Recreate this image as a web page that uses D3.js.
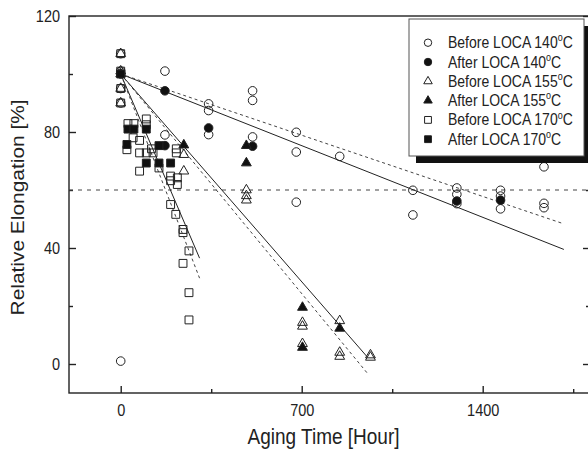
<!DOCTYPE html>
<html>
<head>
<meta charset="utf-8">
<script src="https://cdn.jsdelivr.net/npm/d3@7"></script>
<style>
  body { margin: 0; background: #fff; }
  text { font-family: "Liberation Sans", Arial, sans-serif; fill: #222; }
</style>
</head>
<body>
<div id="container"></div>
<script>
/* DATA: [aging time (h), relative elongation (%)] */
const before140 = [[0,107],[0,101],[0,95],[0,90],[0,1],[171,101],[171,79],[340,89.7],[340,87.4],[340,79.1],
  [510,94.2],[510,90.9],[510,78.3],[679,79.9],[679,73.1],[679,55.8],[847,71.6],[1130,59.9],[1130,51.4],
  [1300,60.7],[1300,58.5],[1300,55.3],[1469,59.9],[1469,57.9],[1469,53.5],[1637,68],[1637,55.4],[1637,53.9]];
const after140 = [[0,100],[171,94.2],[171,75.3],[340,81.4],[510,75.1],[1300,56.2],[1469,56.5]];
const before155 = [[0,107],[0,101],[0,95],[0,90],[244,72.2],[244,66.5],[486,60],[486,58],[486,56.5],
  [703,14.3],[703,13],[703,7],[847,14.9],[847,4],[847,2.6],[966,3.1],[966,2.3]];
const after155 = [[0,100],[244,75.5],[486,75.3],[486,69.3],[703,19.5],[703,5.7],[847,12.3]];
const before170 = [[0,107],[0,101],[0,95],[0,90],[28,82.9],[51,82.9],[99,84.5],[99,82.5],[48,78],[73,77.1],
  [24,73.9],[73,72.8],[99,72.8],[125,72.8],[119,74.2],[148,67.6],[73,66.5],[215,74.2],[215,72.8],
  [193,64.8],[219,64.2],[193,63.2],[219,61.9],[193,55],[213,51.6],[241,46.4],[241,45.3],[264,39],
  [241,34.7],[264,24.6],[264,15.2]];
const after170 = [[0,100],[28,81],[51,81],[99,81],[24,75.7],[148,75.3],[99,69.3],[148,69.3],[193,69.3]];

// linear fits, start and end points
const solidFits = [[[0,100],[1714,39.5]], [[0,100],[952,2.6]], [[0,100],[305,36.5]]];
const dashedFits = [[[0,100],[1708,48.5]], [[0,100],[956,-3.4]], [[0,100],[305,29.6]]];
const criterion = 60;

const legendLabels = ["Before LOCA 140", "After LOCA 140", "Before LOCA 155", "After LOCA 155", "Before LOCA 170", "After LOCA 170"];
const xTicks = [0, 700, 1400];
const xMinor = [350, 1050, 1750];
const yTicks = [0, 40, 80, 120];
const yMinor = [20, 60, 100];

/* CONSTANTS */
const width = 588, height = 452;
const stretch = 1.15; // text in the picture is a bit tall

const series = [
  {data: before140, shape: d3.symbolCircle, size: 58, filled: false},
  {data: after140, shape: d3.symbolCircle, size: 58, filled: true},
  {data: before155, shape: d3.symbolTriangle, size: 42, filled: false},
  {data: after155, shape: d3.symbolTriangle, size: 42, filled: true},
  {data: before170, shape: d3.symbolSquare, size: 62, filled: false},
  {data: after170, shape: d3.symbolSquare, size: 62, filled: true}
];

/* SCALES */
const xScale = d3.scaleLinear().domain([-200, 1815]).range([69, 590]);
const yScale = d3.scaleLinear().domain([-10, 120]).range([393, 16]);

const svg = d3.select("#container").append("svg")
  .attr("width", width)
  .attr("height", height);

/* AXES */
function styleAxis(g) {
  g.select(".domain").remove();
  g.selectAll("line").attr("stroke", "#222").attr("stroke-width", 1.4);
  g.selectAll("text").style("font-size", "14.5px").attr("fill", "#222");
}

svg.append("g").attr("transform", `translate(0,${yScale(-10)})`)
  .call(d3.axisBottom(xScale).tickValues(xTicks).tickSize(-7).tickPadding(10).tickFormat(d3.format("d")))
  .call(styleAxis)
  .selectAll("text").attr("transform", `scale(1,${stretch})`);
svg.append("g").attr("transform", `translate(0,${yScale(-10)})`)
  .call(d3.axisBottom(xScale).tickValues(xMinor).tickSize(-4).tickFormat(""))
  .call(styleAxis);

svg.append("g").attr("transform", `translate(${xScale(-200)},0)`)
  .call(d3.axisLeft(yScale).tickValues(yTicks).tickSize(-7).tickPadding(9))
  .call(styleAxis)
  .selectAll("text").attr("transform", `scale(1,${stretch})`);
svg.append("g").attr("transform", `translate(${xScale(-200)},0)`)
  .call(d3.axisLeft(yScale).tickValues(yMinor).tickSize(-4).tickFormat(""))
  .call(styleAxis);

svg.append("g").attr("transform", `translate(${xScale(1815)},0)`)
  .call(d3.axisRight(yScale).tickValues(yTicks).tickSize(-7).tickFormat(""))
  .call(styleAxis);
svg.append("g").attr("transform", `translate(${xScale(1815)},0)`)
  .call(d3.axisRight(yScale).tickValues(yMinor).tickSize(-4).tickFormat(""))
  .call(styleAxis);

// frame
svg.append("rect")
  .attr("x", xScale(-200)).attr("y", yScale(120))
  .attr("width", xScale(1815) - xScale(-200))
  .attr("height", yScale(-10) - yScale(120))
  .attr("fill", "none").attr("stroke", "#222").attr("stroke-width", 1.4);

// axis titles
svg.append("text")
  .attr("transform", `translate(${(xScale(-200) + xScale(1815)) / 2 - 6},444) scale(1,${stretch})`)
  .attr("text-anchor", "middle")
  .style("font-size", "19px")
  .text("Aging Time [Hour]");

svg.append("text")
  .attr("transform", `translate(24,${yScale(54)}) rotate(-90) scale(1.1,1)`)
  .attr("text-anchor", "middle")
  .style("font-size", "19px")
  .text("Relative Elongation [%]");

/* LINES */
const line = d3.line().x(d => xScale(d[0])).y(d => yScale(d[1]));

svg.append("line")
  .attr("x1", xScale(-200)).attr("x2", xScale(1815))
  .attr("y1", yScale(criterion)).attr("y2", yScale(criterion))
  .attr("stroke", "#444").attr("stroke-width", 1).attr("stroke-dasharray", "4,5");

svg.selectAll(".fit-solid")
  .data(solidFits)
  .join("path")
  .attr("class", "fit-solid")
  .attr("d", line)
  .attr("fill", "none").attr("stroke", "#222").attr("stroke-width", 1);

svg.selectAll(".fit-dashed")
  .data(dashedFits)
  .join("path")
  .attr("class", "fit-dashed")
  .attr("d", line)
  .attr("fill", "none").attr("stroke", "#444").attr("stroke-width", 1).attr("stroke-dasharray", "3,3");

/* POINTS */
series.forEach(s => {
  const sym = d3.symbol().type(s.shape).size(s.size);
  svg.append("g").selectAll("path")
    .data(s.data)
    .join("path")
    .attr("transform", d => `translate(${xScale(d[0])},${yScale(d[1])})`)
    .attr("d", sym)
    .attr("fill", s.filled ? "#111" : "none")
    .attr("stroke", "#222")
    .attr("stroke-width", 1);
});

/* LEGEND */
const legend = svg.append("g");
legend.append("rect")
  .attr("x", 416).attr("y", 26).attr("width", 175).attr("height", 137)
  .attr("fill", "#111");
legend.append("rect")
  .attr("x", 409).attr("y", 19).attr("width", 175).attr("height", 137)
  .attr("fill", "#fff").attr("stroke", "#555").attr("stroke-width", 1);

legendLabels.forEach((label, i) => {
  const cy = 42.7 + i * 19.3;
  const s = series[i];
  legend.append("path")
    .attr("transform", `translate(428,${cy})`)
    .attr("d", d3.symbol().type(s.shape).size(s.size * 0.75))
    .attr("fill", s.filled ? "#111" : "none")
    .attr("stroke", "#222").attr("stroke-width", 1);
  const t = legend.append("text")
    .attr("transform", `translate(448,${cy + 5.5}) scale(1,${stretch})`)
    .style("font-size", "14px");
  t.append("tspan").text(label);
  t.append("tspan").attr("dy", -6).style("font-size", "9px").text("o");
  t.append("tspan").attr("dy", 6).text("C");
});
</script>
</body>
</html>
